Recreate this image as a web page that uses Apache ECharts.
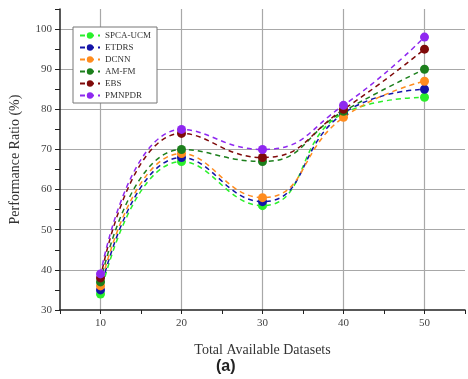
<!DOCTYPE html>
<html><head><meta charset="utf-8">
<script src="https://cdn.jsdelivr.net/npm/echarts@6/dist/echarts.min.js"></script>
<style>html,body{margin:0;padding:0;background:#fff}#c{width:468px;height:379px}</style>
</head><body><div id="c"></div>
<script>
const categories = [10, 20, 30, 40, 50];
const seriesNames = ['SPCA-UCM', 'ETDRS', 'DCNN', 'AM-FM', 'EBS', 'PMNPDR'];
const spcaUcm = [34, 67, 56, 79, 83];
const etdrs   = [35, 68, 57, 79, 85];
const dcnn    = [36, 69, 58, 78, 87];
const amFm    = [37, 70, 67, 79.5, 90];
const ebs     = [38, 74, 68, 80, 95];
const pmnpdr  = [39, 75, 70, 81, 98];
const yTickLabels = [30, 40, 50, 60, 70, 80, 90, 100];
const xTickLabels = [10, 20, 30, 40, 50];

const colors = ['#2bef2b', '#1414a8', '#ff8c1e', '#1c7f1c', '#7f0a0a', '#8f28f0'];
const allData = [spcaUcm, etdrs, dcnn, amFm, ebs, pmnpdr];
const serif = '"Liberation Serif", "DejaVu Serif", serif';

const chart = echarts.init(document.getElementById('c'));
chart.setOption({
  animation: false,
  grid: { left: 60, right: 0, top: 9, bottom: 69 },
  legend: {
    left: 73, top: 27, orient: 'vertical',
    backgroundColor: '#fff', borderColor: '#777', borderWidth: 1,
    padding: [4, 6, 3, 6], itemGap: 3, itemWidth: 20, itemHeight: 8,
    textStyle: { fontFamily: serif, fontSize: 9, color: '#333' },
    data: seriesNames
  },
  xAxis: {
    type: 'value', min: 5, max: 55, interval: 5,
    name: 'Total Available Datasets', nameLocation: 'middle', nameGap: 33,
    nameTextStyle: { fontFamily: serif, fontSize: 14, color: '#333' },
    axisLine: { lineStyle: { color: '#222', width: 1.5 } },
    axisTick: { length: 4, lineStyle: { color: '#222' } },
    axisLabel: { fontFamily: serif, fontSize: 11, color: '#444', margin: 8,
      formatter: v => xTickLabels.includes(v) ? String(v) : '' },
    splitLine: { show: true, showMinLine: false, showMaxLine: false,
      lineStyle: { color: ['#a8a8a8', 'transparent'], width: 1.2 } }
  },
  yAxis: {
    type: 'value', min: 30, max: 105, interval: 5,
    name: 'Performance Ratio (%)', nameLocation: 'middle', nameGap: 38,
    nameTextStyle: { fontFamily: serif, fontSize: 14, color: '#333' },
    axisLine: { show: true, lineStyle: { color: '#222', width: 1.5 } },
    axisTick: { show: true, length: 5, lineStyle: { color: '#222' } },
    axisLabel: { fontFamily: serif, fontSize: 11, color: '#444', margin: 8,
      formatter: v => yTickLabels.includes(v) ? String(v) : '' },
    splitLine: { show: true, showMinLine: false, showMaxLine: false,
      lineStyle: { color: ['transparent', '#a8a8a8'], width: 1.2 } }
  },
  graphic: [{
    type: 'text', left: 216, top: 359,
    style: { text: '(a)', font: 'bold 16px "Liberation Sans", Arial, sans-serif', fill: '#222' }
  }],
  series: seriesNames.map((n, i) => ({
    name: n, type: 'line', smooth: 0.5,
    data: categories.map((c, j) => [c, allData[i][j]]),
    symbol: 'circle', symbolSize: 9,
    itemStyle: { color: colors[i] },
    lineStyle: { color: colors[i], width: 1.5, type: [5, 4] }
  }))
});
</script></body></html>
